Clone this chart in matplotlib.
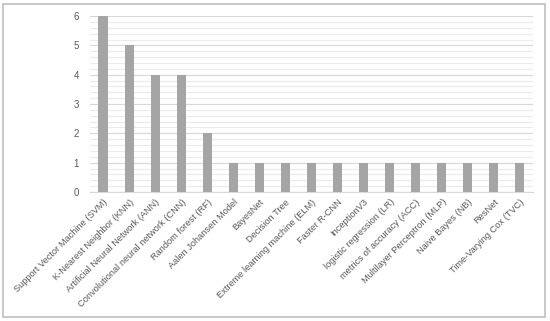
import matplotlib.pyplot as plt
from matplotlib.patches import Rectangle
import numpy as np

categories = [
    "Support Vector Machine (SVM)",
    "K-Nearest Neighbor (KNN)",
    "Artificial Neural Network (ANN)",
    "Convolutional neural network (CNN)",
    "Random forest (RF)",
    "Aalen Johansen Model",
    "BayesNet",
    "Decision Tree",
    "Extreme learning machine (ELM)",
    "Faster R-CNN",
    "InceptionV3",
    "logistic regression (LR)",
    "metrics of accuracy (ACC)",
    "Multilayer Perceptron (MLP)",
    "Naive Bayes (NB)",
    "ResNet",
    "Time-Varying Cox (TVC)",
]
counts = [6, 5, 4, 4, 2, 1, 1, 1, 1, 1, 1, 1, 1, 1, 1, 1, 1]

plt.rcParams['font.family'] = ['Liberation Sans', 'DejaVu Sans']
text_color = '#595959'

fig = plt.figure(figsize=(5.5, 3.21), dpi=100)
ax = fig.add_axes([0.1636, 0.402, 0.8054, 0.548])

x = np.arange(len(categories))
ax.bar(x, counts, width=0.35, color='#A5A5A5', zorder=3)

ax.set_xlim(-0.5, len(categories) - 0.5)
ax.set_ylim(0, 6)
ax.set_yticks(range(0, 7))
ax.set_yticks(np.arange(0, 6.01, 0.2), minor=True)
ax.grid(axis='y', which='major', color='#D9D9D9', linewidth=0.9, zorder=0)
ax.grid(axis='y', which='minor', color='#EBEBEB', linewidth=0.8, zorder=0)

ax.set_xticks(x)
ax.set_xticklabels(categories, rotation=45, ha='right', rotation_mode='anchor',
                   fontsize=6.7, color=text_color)
ax.tick_params(axis='y', labelsize=7, colors=text_color, length=0, pad=8)
ax.tick_params(axis='x', length=0, pad=4)
ax.tick_params(which='minor', length=0)

for s in ['top', 'right', 'left']:
    ax.spines[s].set_visible(False)
ax.spines['bottom'].set_color('#D9D9D9')

fig.patches.append(Rectangle((3 / 550, 4 / 321), 542 / 550, 313 / 321,
                             transform=fig.transFigure, fill=False,
                             edgecolor='#BFBFBF', linewidth=1.2))

fig.savefig('out.png', dpi=100)
